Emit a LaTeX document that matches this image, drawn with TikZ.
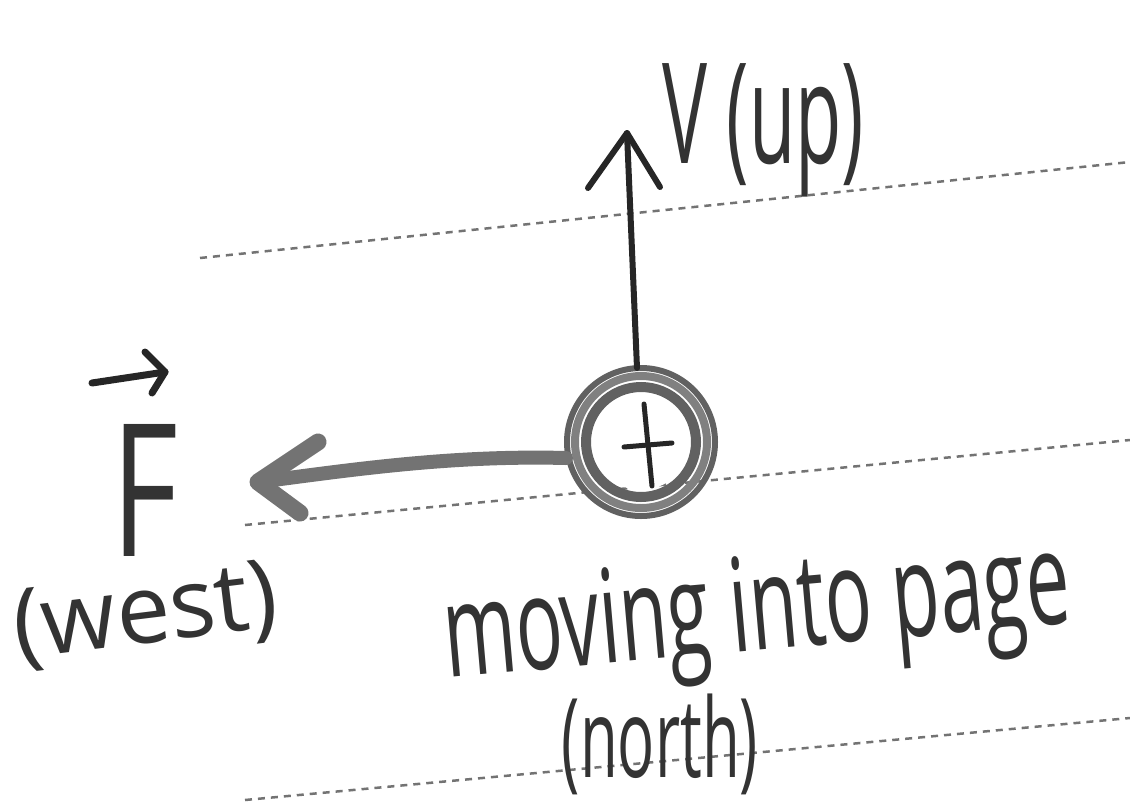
\documentclass[tikz,border=0pt]{standalone}
\usepackage{fontspec}
\setmainfont{Open Sans}
\usetikzlibrary{arrows.meta}
\tikzset{
  rule/.style={draw=black!55, line width=2.5pt, dash pattern=on 7pt off 6pt},
  ink/.style={draw=black!85, line width=6pt, line cap=round, line join=round},
  grayink/.style={draw=black!55, line width=14pt, line cap=round, line join=round},
  hand/.style={text=black!80, inner sep=0pt},
}
\begin{document}
\begin{tikzpicture}[x=1pt,y=-1pt]
\useasboundingbox[fill=white] (0,0) rectangle (1130,809);
% ruled lines
\draw[rule] (200,258) -- (1130,162);
\draw[rule] (245,525) -- (1130,440);
\draw[rule] (245,800) -- (1130,718);
% charge
\node[circle, minimum size=96pt, fill=white, inner sep=0pt] (q) at (641,442) {};
\draw[black!62, line width=10pt] (q.center) circle (55);
\draw[black!50, line width=8pt] (q.center) circle (66);
\draw[black!62, line width=6pt] (q.center) circle (74);
\draw[ink, line width=5pt] (624,447) -- (672,443);
\draw[ink, line width=5pt] (644,404) -- (652,486);
% velocity arrow
\coordinate (vt) at (627,133);
\coordinate (vs) at (637,368);
\draw[ink] (vs) -- (vt);
\draw[ink] (588,188) -- (vt) -- (660,187);
\node[hand, font=\fontsize{140}{140}\selectfont, anchor=base west] (v) at (662,163) {\scalebox{0.54}[1]{V (up)}};
% force arrow
\coordinate (fs) at (566,458);
\coordinate (ft) at (258,482);
\draw[grayink] (fs) .. controls (450,455) and (350,470) .. (ft);
\draw[grayink, line width=17pt] (318,442) -- (ft) -- (300,513);
% F label
\node[hand, font=\fontsize{185}{185}\selectfont] (F) at (145,490) {\scalebox{0.7}[1]{F}};
\coordinate (fa1) at (92,383);
\coordinate (fa2) at (165,372);
\draw[ink, line width=7pt] (fa1) -- (fa2);
\draw[ink, line width=7pt] (145,352) -- (fa2) -- (152,393);
\node[hand, font=\fontsize{96}{96}\selectfont, rotate=7] (west) at (146,616) {(west)};
\node[hand, font=\fontsize{130}{130}\selectfont, rotate=5] (move) at (757,618) {\scalebox{0.6}[1]{moving into page}};
\node[hand, font=\fontsize{110}{110}\selectfont] (north) at (660,744) {\scalebox{0.56}[1]{(north)}};
\end{tikzpicture}
\end{document}
